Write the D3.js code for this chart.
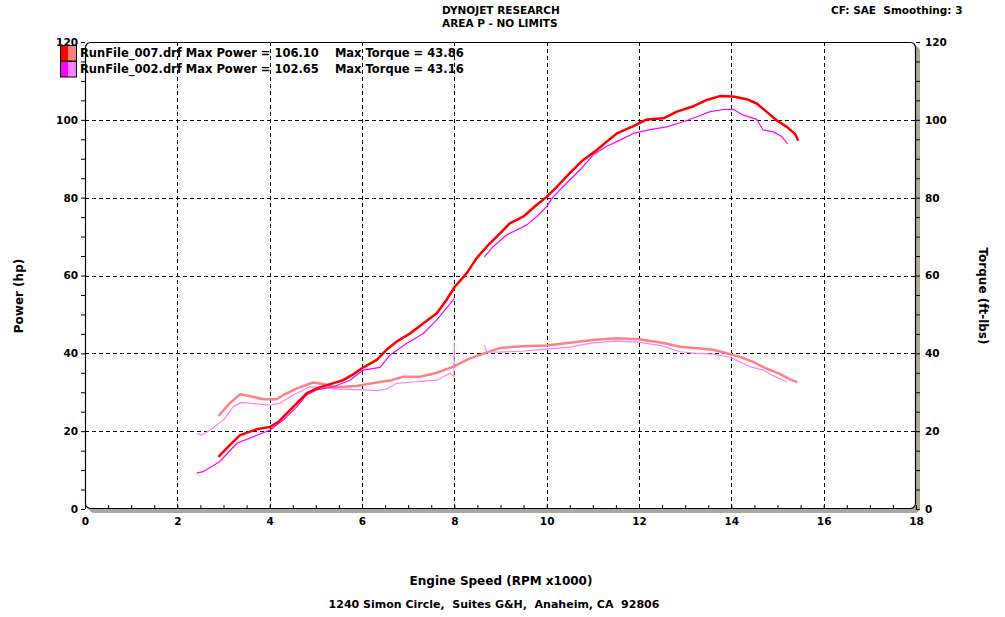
<!DOCTYPE html>
<html><head><meta charset="utf-8">
<script src="https://cdn.jsdelivr.net/npm/d3@7"></script>
<style>
body{margin:0;background:#fff;}
text{font-family:"DejaVu Sans",Verdana,sans-serif;font-weight:bold;fill:#000;}
</style></head>
<body><svg id="c" width="1005" height="617"></svg>
<script>
// ---- data (rpm x1000, value) ----
const power007 = [[2.89,13.4],[3.14,16.5],[3.36,19.0],[3.72,20.5],[4.01,21.1],[4.19,22.4],[4.37,24.6],[4.59,27.2],[4.80,29.7],[5.02,31.0],[5.31,32.1],[5.59,33.1],[5.81,34.6],[6.03,36.4],[6.32,38.3],[6.53,40.9],[6.75,43.0],[7.04,45.1],[7.33,47.7],[7.62,50.3],[7.83,53.7],[8.01,57.1],[8.27,60.6],[8.48,64.4],[8.70,67.4],[8.99,70.8],[9.20,73.4],[9.49,75.1],[9.78,78.1],[10.0,80.2],[10.22,82.8],[10.5,86.3],[10.79,89.7],[11.08,92.2],[11.3,94.4],[11.52,96.5],[11.88,98.4],[12.17,100.1],[12.53,100.4],[12.82,102.1],[13.18,103.5],[13.47,105.1],[13.75,106.1],[14.04,106.0],[14.33,105.3],[14.55,104.2],[14.76,102.1],[14.98,99.9],[15.2,98.2],[15.38,96.4],[15.45,94.6]];
const torque007 = [[2.89,23.9],[3.14,27.2],[3.36,29.5],[3.57,29.0],[3.86,28.2],[4.15,28.2],[4.30,29.3],[4.59,31.0],[4.94,32.5],[5.16,32.1],[5.45,31.3],[5.88,31.6],[6.32,32.5],[6.61,33.0],[6.89,34.0],[7.26,34.0],[7.62,35.0],[7.98,36.6],[8.34,38.7],[8.99,41.4],[9.5,41.8],[10.0,42.0],[10.5,42.7],[11.0,43.4],[11.5,43.86],[12.0,43.6],[12.5,42.7],[12.89,41.7],[13.25,41.3],[13.61,40.9],[13.9,40.0],[14.19,39.1],[14.47,37.8],[14.76,36.1],[15.05,34.7],[15.27,33.3],[15.43,32.6]];
const power002a = [[2.42,9.2],[2.56,9.6],[2.92,12.2],[3.29,16.9],[3.65,18.6],[4.01,20.3],[4.30,22.9],[4.59,26.3],[4.80,29.3],[5.02,30.6],[5.38,31.4],[5.74,33.1],[6.03,35.7],[6.39,36.4],[6.61,39.6],[6.97,42.6],[7.33,45.1],[7.62,48.6],[7.83,51.6],[8.0,54.1]];
const power002b = [[8.65,64.8],[8.84,67.4],[9.13,70.4],[9.35,71.7],[9.57,73.0],[9.78,75.1],[10.0,77.7],[10.14,80.2],[10.43,83.7],[10.72,87.1],[11.01,91.0],[11.3,93.2],[11.52,94.4],[11.88,96.5],[12.24,97.5],[12.6,98.2],[12.96,99.5],[13.25,100.8],[13.54,102.1],[13.83,102.65],[14.04,102.7],[14.26,101.2],[14.55,100.1],[14.69,97.4],[14.91,96.9],[15.09,95.7],[15.22,93.8]];
const torque002a = [[2.42,19.4],[2.53,19.0],[2.71,20.3],[3.0,22.9],[3.21,26.3],[3.39,27.4],[3.72,27.0],[4.01,26.7],[4.22,27.2],[4.51,29.3],[4.87,31.4],[5.16,31.3],[5.45,30.8],[6.03,30.6],[6.32,30.4],[6.53,30.8],[6.75,32.3],[7.18,32.7],[7.62,33.1],[7.91,34.9],[7.99,34.0],[8.0,42.6]];
const torque002b = [[8.65,42.1],[8.7,40.4],[8.99,40.3],[9.5,40.6],[10.0,41.1],[10.5,41.6],[11.0,42.7],[11.5,43.16],[12.0,42.9],[12.5,41.9],[12.89,40.4],[13.25,40.0],[13.61,39.8],[13.97,39.0],[14.19,37.8],[14.4,36.6],[14.69,35.7],[14.91,34.2],[15.2,32.7]];

const xMajor = [0,2,4,6,8,10,12,14,16,18];
const yMajor = [0,20,40,60,80,100,120];
const legendRows = [
  {name:"RunFile_007.drf", power:"106.10", torque:"43.86", dark:"#ff0000", light:"#ff8080"},
  {name:"RunFile_002.drf", power:"102.65", torque:"43.16", dark:"#ff00ff", light:"#ff80ff"}
];
const series = [
  {data:torque007, color:"#ff8080", w:2.5},
  {data:torque002a, color:"#ff80ff", w:1.2},
  {data:torque002b, color:"#ff80ff", w:1.2},
  {data:power002a, color:"#ff00ff", w:1.2},
  {data:power002b, color:"#ff00ff", w:1.2},
  {data:power007, color:"#ff0000", w:2.5}
];

// ---- layout ----
const L=85, R=916, T=42, B=509;
const svg = d3.select("#c");
const x = d3.scaleLinear().domain([0,18]).range([L,R]);
const y = d3.scaleLinear().domain([0,120]).range([B,T]);

// shadow
svg.append("rect").attr("x",L+4).attr("y",T+4).attr("width",R-L).attr("height",B-T)
  .attr("rx",5).attr("fill","#aca899");
svg.append("rect").attr("x",L).attr("y",T).attr("width",R-L).attr("height",B-T)
  .attr("rx",5).attr("fill","#fff");

// grid
const g = svg.append("g");
g.selectAll("line.v").data(xMajor.filter(d=>d>0&&d<18)).join("line")
  .attr("x1",d=>Math.round(x(d))+0.5).attr("x2",d=>Math.round(x(d))+0.5).attr("y1",T).attr("y2",B)
  .attr("stroke","#000").attr("stroke-width",1).attr("stroke-dasharray","4,3");
g.selectAll("line.h").data(yMajor.filter(d=>d>0&&d<120)).join("line")
  .attr("y1",d=>Math.round(y(d))+0.5).attr("y2",d=>Math.round(y(d))+0.5).attr("x1",L).attr("x2",R)
  .attr("stroke","#000").attr("stroke-width",1).attr("stroke-dasharray","4,3");

// frame
svg.append("rect").attr("x",L+0.5).attr("y",T+0.5).attr("width",R-L-1).attr("height",B-T-1)
  .attr("rx",5).attr("fill","none").attr("stroke","#000").attr("stroke-width",1.2);

// axes
const xMinor = d3.range(0,18.01,0.5);
const yMinor = d3.range(0,120.1,5);
const ax = svg.append("g").attr("transform",`translate(0,${B})`)
  .call(d3.axisBottom(x).tickValues(xMinor).tickSizeInner(-4).tickSizeOuter(0).tickFormat(""));
ax.select(".domain").remove();
const axl = svg.append("g").attr("transform",`translate(0,${B})`)
  .call(d3.axisBottom(x).tickValues(xMajor).tickSize(0).tickPadding(9).tickFormat(d3.format("d")));
axl.select(".domain").remove();
const ayl = svg.append("g").attr("transform",`translate(${L},0)`)
  .call(d3.axisLeft(y).tickValues(yMinor).tickSizeInner(4).tickSizeOuter(0).tickFormat(""));
ayl.select(".domain").remove();
const aylt = svg.append("g").attr("transform",`translate(${L},0)`)
  .call(d3.axisLeft(y).tickValues(yMajor).tickSize(0).tickPadding(7).tickFormat(d3.format("d")));
aylt.select(".domain").remove();
const ayr = svg.append("g").attr("transform",`translate(${R},0)`)
  .call(d3.axisRight(y).tickValues(yMinor).tickSizeInner(4).tickSizeOuter(0).tickFormat(""));
ayr.select(".domain").remove();
const ayrt = svg.append("g").attr("transform",`translate(${R},0)`)
  .call(d3.axisRight(y).tickValues(yMajor).tickSize(0).tickPadding(9).tickFormat(d3.format("d")));
ayrt.select(".domain").remove();
svg.selectAll(".tick line").attr("stroke","#000");
svg.selectAll(".tick text").attr("font-size","10.5px").attr("font-family","DejaVu Sans").attr("font-weight","bold");

// lines
const line = d3.line().x(d=>x(d[0])).y(d=>y(d[1]));
series.forEach(s=>{
  svg.append("path").datum(s.data).attr("d",line).attr("fill","none")
    .attr("stroke",s.color).attr("stroke-width",s.w).attr("stroke-linejoin","round");
});

// legend
legendRows.forEach((r,i)=>{
  const yy = 45 + i*16;
  svg.append("rect").attr("x",60).attr("y",yy).attr("width",8.5).attr("height",16).attr("fill",r.dark);
  svg.append("rect").attr("x",68.5).attr("y",yy).attr("width",8.5).attr("height",16).attr("fill",r.light);
  svg.append("rect").attr("x",60.5).attr("y",yy+0.5).attr("width",16).attr("height",15.5).attr("fill","none").attr("stroke","#000");
  svg.append("text").attr("x",80).attr("y",yy+12).attr("font-size","11.5px")
    .attr("xml:space","preserve").style("white-space","pre")
    .text(`${r.name} Max Power = ${r.power}    Max Torque = ${r.torque}`);
});

// titles
svg.append("text").attr("x",442).attr("y",14).attr("font-size","10.5px").text("DYNOJET RESEARCH");
svg.append("text").attr("x",442).attr("y",27).attr("font-size","10.5px").text("AREA P - NO LIMITS");
svg.append("text").attr("x",831).attr("y",14).attr("font-size","10.5px").style("white-space","pre").text("CF: SAE  Smoothing: 3");
svg.append("text").attr("transform","translate(23,296) rotate(-90)").attr("text-anchor","middle").attr("font-size","12px").text("Power (hp)");
svg.append("text").attr("transform","translate(979,296) rotate(90)").attr("text-anchor","middle").attr("font-size","12px").text("Torque (ft-lbs)");
svg.append("text").attr("x",501).attr("y",585).attr("text-anchor","middle").attr("font-size","12px").text("Engine Speed (RPM x1000)");
svg.append("text").attr("x",494).attr("y",608).attr("text-anchor","middle").attr("font-size","11px").style("white-space","pre").text("1240 Simon Circle,  Suites G&H,  Anaheim, CA  92806");
</script></body></html>
